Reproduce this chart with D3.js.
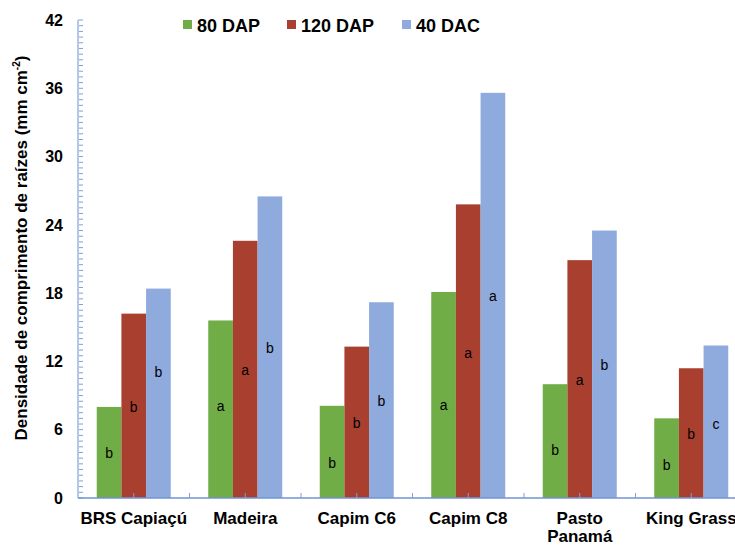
<!DOCTYPE html>
<html><head><meta charset="utf-8">
<script src="https://cdn.jsdelivr.net/npm/d3@7"></script>
<style>body{margin:0;background:#fff;}svg{display:block;font-family:"Liberation Sans",Arial,sans-serif;}</style>
</head><body>
<svg id="c" width="735" height="545"></svg>
<script>
const categories = [["BRS Capiaçú"],["Madeira"],["Capim C6"],["Capim C8"],["Pasto","Panamá"],["King Grass"]];
const seriesNames = ["80 DAP","120 DAP","40 DAC"];
const seriesColors = ["#70ad47","#a9402f","#8faadc"];
const v80 = [8.0, 15.6, 8.1, 18.1, 10.0, 7.0];
const v120 = [16.2, 22.6, 13.3, 25.8, 20.9, 11.4];
const v40 = [18.4, 26.5, 17.2, 35.6, 23.5, 13.4];
const letters80 = ["b","a","b","a","b","b"];
const letters120 = ["b","a","b","a","a","b"];
const letters40 = ["b","b","b","a","b","c"];
const letterAt80 = [3.95, 8.1, 3.1, 8.2, 4.2, 2.9];
const letterAt120 = [8.0, 11.2, 6.6, 12.7, 10.4, 5.6];
const letterAt40 = [11.1, 13.2, 8.5, 17.7, 11.7, 6.5];
const yTicks = [0,6,12,18,24,30,36,42];

const values = [v80, v120, v40];
const letters = [letters80, letters120, letters40];
const letterAt = [letterAt80, letterAt120, letterAt40];
const catKeys = categories.map(c => c.join(" "));

const svg = d3.select("#c");
const mLeft = 78, mTop = 20, mBottom = 498, band = 111.5, barGroup = 74;
const x = d3.scaleBand().domain(catKeys).range([mLeft, mLeft + band*catKeys.length]).padding(0);
const xs = d3.scaleBand().domain(d3.range(3)).range([0, x.bandwidth()])
  .paddingInner(0).paddingOuter((x.bandwidth()-barGroup)/2/(barGroup/3));
const y = d3.scaleLinear().domain([0,42]).range([mBottom, mTop]);

// bars
values.forEach((vals, s) => {
  svg.append("g").selectAll("rect").data(vals).join("rect")
    .attr("x", (d,i) => x(catKeys[i]) + xs(s))
    .attr("y", d => y(d))
    .attr("width", xs.bandwidth())
    .attr("height", d => y(0) - y(d))
    .attr("fill", seriesColors[s]);
});

// letters
letters.forEach((ls, s) => {
  svg.append("g").selectAll("text").data(ls).join("text")
    .attr("x", (d,i) => x(catKeys[i]) + xs(s) + xs.bandwidth()/2)
    .attr("y", (d,i) => y(letterAt[s][i]))
    .attr("dy", "0.35em")
    .attr("text-anchor","middle")
    .attr("font-size", 14)
    .attr("fill","#000")
    .text(d => d);
});

// y axis
const minor = d3.range(0, 42.01, 0.5);
svg.append("g").selectAll("line").data(minor).join("line")
  .attr("x1", mLeft).attr("x2", mLeft + 5)
  .attr("y1", d => y(d)).attr("y2", d => y(d))
  .attr("stroke", "#7f9fd8").attr("stroke-width", 1);
svg.append("line").attr("x1", mLeft).attr("x2", mLeft).attr("y1", mTop).attr("y2", mBottom)
  .attr("stroke", "#b4c7e7").attr("stroke-width", 2);
svg.append("g").selectAll("text").data(yTicks).join("text")
  .attr("x", 63).attr("y", d => y(d)).attr("dy","0.36em")
  .attr("text-anchor","end").attr("font-size",16).attr("font-weight","bold")
  .text(d => d);

// x axis
svg.append("line").attr("x1", mLeft).attr("x2", 735).attr("y1", mBottom).attr("y2", mBottom)
  .attr("stroke", "#6f93d4").attr("stroke-width", 1.5);
const xTickPos = [];
catKeys.forEach(k => { xTickPos.push(x(k) + x.bandwidth()/2); xTickPos.push(x(k) + x.bandwidth()); });
svg.append("g").selectAll("line").data(xTickPos).join("line")
  .attr("x1", d => d).attr("x2", d => d).attr("y1", mBottom).attr("y2", mBottom - 5)
  .attr("stroke", "#7f9fd8").attr("stroke-width", 1);

// category labels
const cl = svg.append("g").selectAll("text").data(categories).join("text")
  .attr("x", (d,i) => x(catKeys[i]) + x.bandwidth()/2)
  .attr("y", 524)
  .attr("text-anchor","middle").attr("font-size",17).attr("font-weight","bold");
cl.each(function(d){
  const t = d3.select(this);
  d.forEach((line, j) => t.append("tspan").attr("x", t.attr("x")).attr("dy", j ? 18 : 0).text(line));
});

// y title
const yt = svg.append("text")
  .attr("transform", "translate(27,248) rotate(-90)")
  .attr("text-anchor","middle").attr("font-size",17).attr("font-weight","bold");
yt.append("tspan").text("Densidade de comprimento de raízes (mm cm");
yt.append("tspan").attr("font-size",10).attr("dy",-7).text("-2");
yt.append("tspan").attr("dy",7).text(")");

// legend
const legX = [183, 287, 402];
const lg = svg.append("g").selectAll("g").data(seriesNames).join("g")
  .attr("transform", (d,i) => `translate(${legX[i]},0)`);
lg.append("rect").attr("x",0).attr("y",20).attr("width",9).attr("height",9)
  .attr("fill", (d,i) => seriesColors[i]);
lg.append("text").attr("x",14).attr("y",32).attr("font-size",18).attr("font-weight","bold")
  .text(d => d);
</script>
</body></html>
